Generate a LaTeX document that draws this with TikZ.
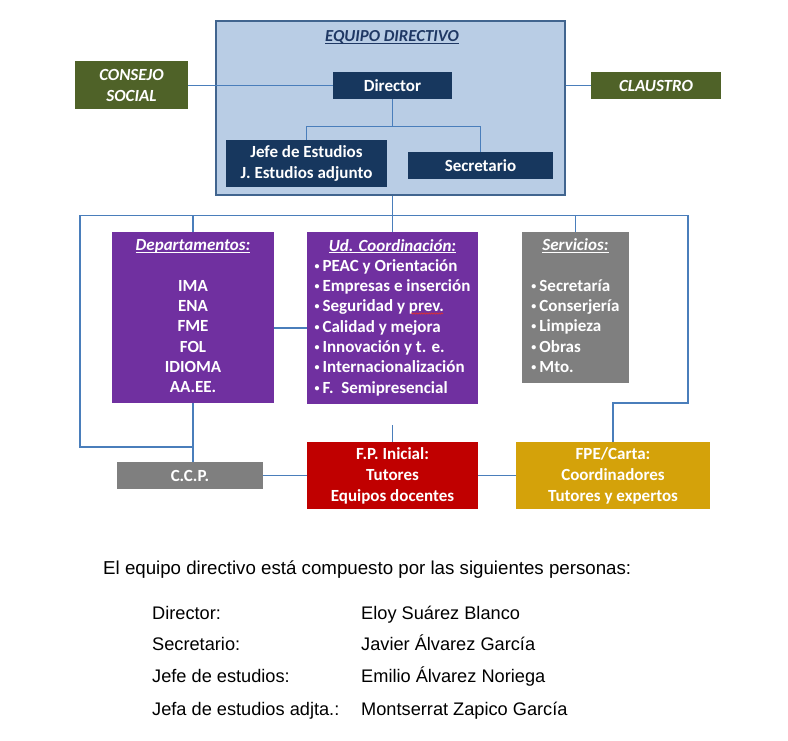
\documentclass[tikz,border=0pt]{standalone}
\usepackage{fontspec}
\setmainfont{Carlito}
\newfontfamily\arialf{Liberation Sans}
\usetikzlibrary{calc,decorations.pathmorphing}
\definecolor{lblue}{HTML}{B9CDE5}
\definecolor{eqborder}{HTML}{41658F}
\definecolor{lineblue}{HTML}{4A7EBB}
\definecolor{navy}{HTML}{17375E}
\definecolor{olive}{HTML}{4F6228}
\definecolor{purp}{HTML}{7030A0}
\definecolor{grayb}{HTML}{7F7F7F}
\definecolor{redb}{HTML}{C00000}
\definecolor{goldb}{HTML}{D4A20A}
\definecolor{titlenavy}{HTML}{1F3864}
\definecolor{spellred}{HTML}{E03030}
\newcommand\myul[1]{\setbox0\hbox{#1}\rlap{\rule[-2.3pt]{\wd0}{0.9pt}}\box0}
\newcommand\mybul{{\fontsize{10}{10}\selectfont\raisebox{2pt}{•}}\hspace{3pt}}
\begin{document}
\begin{tikzpicture}[x=1pt,y=-1pt,
  box/.style={inner sep=0pt, text=white, align=center,
    font=\bfseries\fontsize{17}{20.3}\selectfont},
  conn/.style={draw=lineblue, line width=1.3pt},
  txt/.style={anchor=base west, inner sep=0pt, font=\arialf\fontsize{18.2}{18}\selectfont}]
\useasboundingbox[fill=white] (0,0) rectangle (788,741);

% Equipo directivo frame
\node[draw=eqborder, line width=1.2pt, fill=lblue, minimum width=349pt, minimum height=174pt, inner sep=0pt] (eq) at (390.5,108) {};
\node[inner sep=0pt, text=titlenavy, font=\bfseries\itshape\fontsize{16.8}{20}\selectfont] (eqtitle) at (392,37) {\myul{EQUIPO DIRECTIVO}};

\node[box, fill=olive, minimum width=113pt, minimum height=48pt, font=\bfseries\itshape\fontsize{17}{21.5}\selectfont] (cs) at (131.5,85.5) {CONSEJO\\SOCIAL};
\node[box, fill=olive, minimum width=130pt, minimum height=27pt, font=\bfseries\itshape\fontsize{17}{20.3}\selectfont] (cl) at (656,85.5) {CLAUSTRO};
\node[box, fill=navy, minimum width=119pt, minimum height=27pt] (dir) at (392.5,85.5) {Director};
\node[box, fill=navy, minimum width=161pt, minimum height=47pt] (jefe) at (306.5,163.5) {Jefe de Estudios\\J. Estudios adjunto};
\node[box, fill=navy, minimum width=145pt, minimum height=27pt] (sec) at (480.5,165.5) {Secretario};

% middle row
\node[box, fill=purp, minimum width=162pt, minimum height=171pt] (dept) at (193,317.5)
 {\begin{tabular}{@{}c@{}}\myul{\itshape Departamentos:}\\ \\ IMA\\ ENA\\ FME\\ FOL\\ IDIOMA\\ AA.EE.\end{tabular}};
\node[box, fill=purp, minimum width=171pt, minimum height=172pt] (ud) at (392.5,318)
 {\begin{tabular}{@{}l@{}}\multicolumn{1}{@{}c@{}}{\myul{\itshape Ud. Coordinación:}}\\
 \mybul PEAC y Orientación\\ \mybul Empresas e inserción\\ \mybul Seguridad y prev.\\
 \mybul Calidad y mejora\\ \mybul Innovación y t. e.\\ \mybul Internacionalización\\
 \mybul F.\ \ Semipresencial\end{tabular}};
\node[box, fill=grayb, minimum width=107pt, minimum height=151pt] (serv) at (575.5,307.5)
 {\begin{tabular}{@{}l@{}}\multicolumn{1}{@{}c@{}}{\myul{\itshape Servicios:}}\\ \\
 \mybul Secretaría\\ \mybul Conserjería\\ \mybul Limpieza\\ \mybul Obras\\ \mybul Mto.\end{tabular}};
% spell-check mark under "prev."
\coordinate (sp1) at (411,313.5);
\coordinate (sp2) at (443,313.5);
\draw[spellred, line width=0.6pt, decorate, decoration={snake, amplitude=0.7pt, segment length=2.5pt}] (sp1) -- (sp2);

% bottom row
\node[box, fill=grayb, minimum width=146pt, minimum height=27pt] (ccp) at (190,475.5) {C.C.P.};
\node[box, fill=redb, minimum width=171pt, minimum height=67pt, font=\bfseries\fontsize{17}{21}\selectfont] (fp) at (392.5,475.5) {F.P. Inicial:\\Tutores\\Equipos docentes};
\node[box, fill=goldb, minimum width=194pt, minimum height=67pt, font=\bfseries\fontsize{17}{21}\selectfont] (fpe) at (613,475.5) {FPE/Carta:\\Coordinadores\\Tutores y expertos};

% connectors
\coordinate (tl) at (80,215.5);
\coordinate (tr) at (688,215.5);
\coordinate (y447) at (0,447);
\coordinate (y403) at (0,403);
\draw[conn] (cs.east) -- (dir.west);
\draw[conn] (cl.west) -- (cl.west -| eq.east);
\draw[conn] (dir.south) -- ++(0,27) coordinate (j1);
\draw[conn] (jefe.north) |- (j1) -| (sec.north);
\draw[conn] (eq.south -| dir.south) -- (tl -| dir.south);
\draw[conn] (tl) -- (tr);
\draw[conn] (dept.north) -- (dept.north |- tl);
\draw[conn] (ud.north) -- (ud.north |- tl);
\draw[conn] (serv.north) -- (serv.north |- tl);
\draw[conn] (tl) |- (dept.south |- y447);
\draw[conn] (dept.south) -- (ccp.north -| dept.south);
\draw[conn] (tr) |- (fpe.north |- y403) -- (fpe.north);
\draw[conn] ([yshift=-10.5pt]dept.east) -- ([yshift=-10pt]ud.west);
\draw[conn] (ccp.east) -- (fp.west);
\draw[conn] (fp.east) -- (fpe.west);
\draw[conn] (fp.north) -- ++(0,-17) coordinate (stub);

% text below
\node[txt, font=\arialf\fontsize{18.7}{18}\selectfont] (intro) at (103,574.5) {El equipo directivo está compuesto por las siguientes personas:};
\node[txt] (l1) at (152,619.5) {Director:};
\node[txt] (n1) at (361,619.5) {Eloy Suárez Blanco};
\node[txt] (l2) at (152,650.5) {Secretario:};
\node[txt] (n2) at (361,650.5) {Javier Álvarez García};
\node[txt] (l3) at (152,682.5) {Jefe de estudios:};
\node[txt] (n3) at (361,682.5) {Emilio Álvarez Noriega};
\node[txt] (l4) at (152,715.5) {Jefa de estudios adjta.:};
\node[txt] (n4) at (361,715.5) {Montserrat Zapico García};
\end{tikzpicture}
\end{document}
